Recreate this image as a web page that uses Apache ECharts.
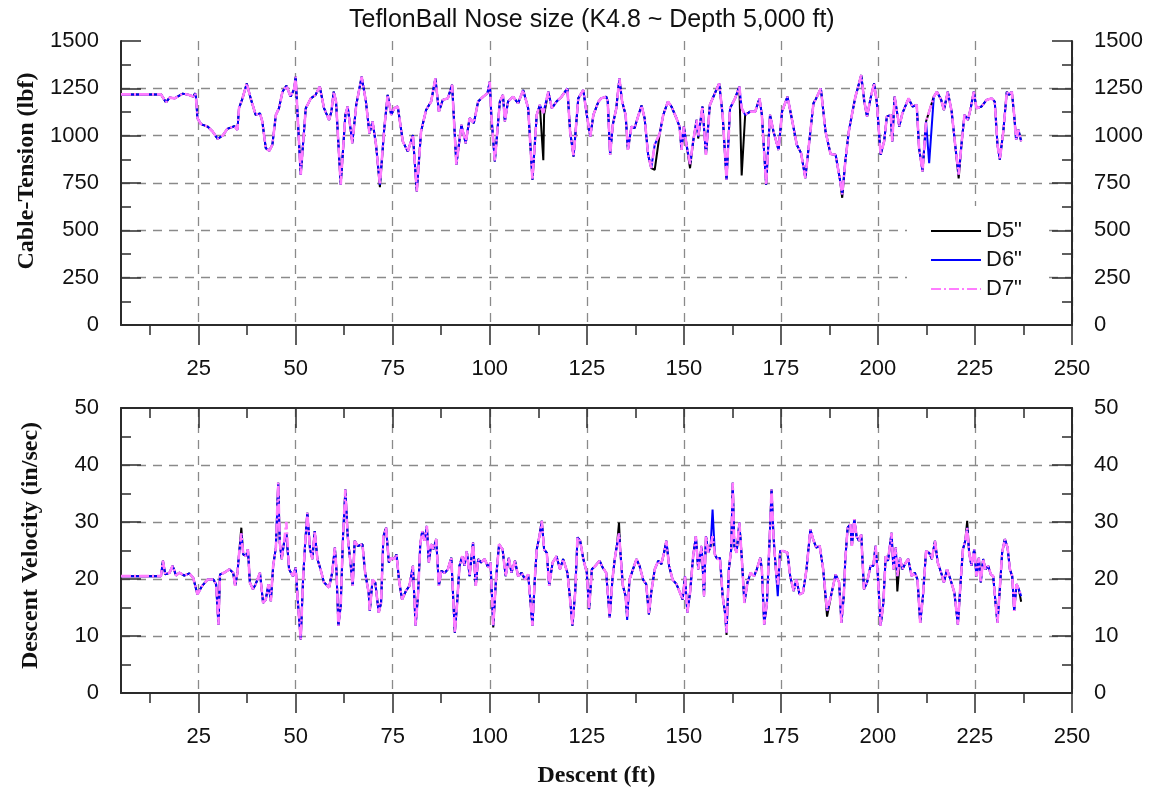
<!DOCTYPE html>
<html><head><meta charset="utf-8">
<script src="https://cdn.jsdelivr.net/npm/echarts@6/dist/echarts.min.js"></script>
<style>html,body{margin:0;padding:0;background:#fff}#c{width:1152px;height:792px}</style>
</head><body><div id="c"></div>
<script>
const chartTitle = 'TeflonBall Nose size (K4.8 ~ Depth 5,000 ft)';
const seriesNames = ['D5"', 'D6"', 'D7"'];
const xTicks = [25, 50, 75, 100, 125, 150, 175, 200, 225, 250];
const xMinorTicks = [12.5, 37.5, 62.5, 87.5, 112.5, 137.5, 162.5, 187.5, 212.5, 237.5];

const tensionDepth = [
5,15.3,16.6,17.5,18.8,20.9,22.6,23.6,24.1,24.3,
24.7,25.6,27.3,28.6,29.9,31.2,32.4,34.2,35.0,35.4,
36.3,37.4,38.4,39.7,40.8,41.4,42.3,43.2,44.0,44.9,
45.7,46.6,47.6,48.7,49.6,50.0,50.4,51.3,52.6,53.9,
55.1,56.2,57.3,58.6,59.2,59.8,60.4,61.6,62.8,63.4,
64.6,65.6,67.0,68.1,69.0,69.8,70.7,71.7,72.8,73.7,
74.6,75.4,76.3,77.6,78.9,80.2,81.2,82.3,83.6,84.9,
86.0,86.9,87.9,89.2,90.3,91.4,92.7,93.8,94.8,95.9,
97.0,98.3,99.4,100.0,100.4,101.3,102.6,103.4,103.9,104.7,
106.0,107.3,108.6,109.9,111.0,112.1,112.9,113.8,114.0,115.1,
116.0,117.2,118.5,120.0,120.7,121.6,122.8,124.1,125.0,125.9,
126.7,128.0,128.7,130.0,130.4,131.0,131.7,132.6,133.4,134.1,
135.0,135.6,136.5,137.3,138.2,139.1,139.9,140.8,141.6,142.5,
143.8,144.7,145.9,146.8,148.1,148.9,149.4,150.0,150.7,151.6,
152.4,153.3,153.7,154.8,155.7,156.7,158.0,159.1,160.0,161.0,
161.9,163.2,164.3,164.9,165.8,167.1,168.4,169.5,170.1,171.2,
172.2,173.1,174.4,175.3,176.7,177.8,179.1,180.2,181.3,182.6,
183.4,184.1,185.3,186.5,187.8,189.1,190.2,190.8,191.6,192.5,
193.3,194.2,194.8,195.7,196.5,197.2,198.1,199.0,199.7,200.7,
201.6,202.3,203.3,203.7,204.3,205.5,206.3,207.9,208.9,210.0,
210.6,211.5,212.4,213.2,214.4,215.2,216.3,217.0,218.0,219.0,
219.9,220.8,221.6,222.3,223.2,223.9,224.7,225.4,226.7,228.0,
229.3,230.1,230.8,231.4,232.3,233.2,233.8,234.5,235.1,235.6,
236.2,236.9];

const tensionD5 = [
1218,1218,1176,1201,1197,1222,1215,1206,1224,1206,
1092,1061,1048,1022,983,1001,1036,1050,1031,1145,
1197,1276,1197,1110,1118,1075,934,920,952,1110,
1145,1232,1264,1206,1246,1311,1145,794,1145,1197,
1215,1259,1145,1083,1127,1232,1180,741,1110,1154,
960,1162,1311,1180,1012,1075,952,728,1033,1215,
1110,1145,1154,970,916,1003,706,1022,1136,1180,
1303,1127,1189,1197,1268,847,1057,960,1092,1066,
1180,1206,1224,1285,1110,864,1180,1215,1075,1180,
1206,1171,1241,1145,767,1110,1162,870,1110,1232,
1145,1180,1206,1250,1022,890,1197,1241,1110,995,
1110,1180,1197,1206,1180,899,1057,1145,1303,1180,
1110,925,1048,1040,1101,1159,1092,899,829,820,
1012,1110,1180,1154,1092,1048,925,1048,952,828,
970,1083,985,1154,899,1162,1224,1276,1110,767,
1145,1197,1259,790,1110,1127,1127,1197,1110,741,
1110,1022,925,1127,1206,1092,952,908,776,1022,
1171,1197,1250,1022,903,899,770,672,864,1022,
1110,1206,1250,1320,1180,1101,1197,1276,1180,899,
970,1101,1110,970,1206,1048,1118,1197,1154,1162,
934,811,1075,1127,1206,1232,1189,1136,1232,1127,
952,774,970,1110,1083,1145,1232,1145,1154,1189,
1197,1180,952,873,1022,1232,1215,1232,1110,978,
1031,970];

const tensionD6 = [
1218,1218,1176,1201,1197,1222,1215,1206,1224,1206,
1092,1061,1048,1022,983,1001,1036,1050,1031,1145,
1197,1276,1197,1110,1118,1075,934,920,952,1110,
1145,1232,1264,1206,1246,1311,1145,794,1145,1197,
1215,1259,1145,1083,1127,1232,1180,741,1110,1154,
960,1162,1311,1180,1012,1075,952,740,1033,1215,
1110,1145,1154,970,916,1003,706,1022,1136,1180,
1303,1127,1189,1197,1268,847,1057,960,1092,1066,
1180,1206,1224,1285,1110,864,1180,1215,1075,1180,
1206,1171,1241,1145,767,1110,1162,1120,1110,1232,
1145,1180,1206,1250,1022,890,1197,1241,1110,995,
1110,1180,1197,1206,1180,899,1057,1145,1303,1180,
1110,925,1048,1040,1101,1159,1092,899,829,952,
1012,1110,1180,1154,1092,1048,925,1048,952,850,
970,1083,995,1154,899,1162,1224,1276,1110,767,
1145,1197,1259,1145,1110,1127,1127,1197,1110,741,
1110,1022,925,1127,1206,1092,952,908,776,1022,
1171,1197,1250,1022,903,899,770,690,864,1022,
1110,1206,1250,1320,1180,1101,1197,1276,1180,899,
970,1101,1110,970,1206,1048,1118,1197,1154,1162,
934,811,1075,855,1206,1232,1189,1136,1232,1127,
952,794,970,1110,1083,1145,1232,1145,1154,1189,
1197,1180,952,873,1022,1232,1215,1232,1110,978,
1031,970];

const tensionD7 = [
1218,1218,1176,1201,1197,1222,1215,1206,1224,1206,
1092,1061,1048,1022,983,1001,1036,1050,1031,1145,
1197,1276,1197,1110,1118,1075,934,920,952,1110,
1145,1232,1264,1206,1246,1311,1145,794,1145,1197,
1215,1259,1145,1083,1127,1232,1180,741,1110,1154,
960,1162,1311,1180,1012,1075,952,740,1033,1215,
1110,1145,1154,970,916,1003,706,1022,1136,1180,
1303,1127,1189,1197,1268,847,1057,960,1092,1066,
1180,1206,1224,1285,1110,864,1180,1215,1075,1180,
1206,1171,1241,1145,767,1110,1162,1120,1110,1232,
1145,1180,1206,1250,1022,890,1197,1241,1110,995,
1110,1180,1197,1206,1180,899,1057,1145,1303,1180,
1110,925,1048,1040,1101,1159,1092,899,829,952,
1012,1110,1180,1154,1092,1048,925,1048,952,850,
970,1083,995,1154,899,1162,1224,1276,1110,767,
1145,1197,1259,1145,1110,1127,1127,1197,1110,741,
1110,1022,925,1127,1206,1092,952,908,776,1022,
1171,1197,1250,1022,903,899,770,690,864,1022,
1110,1206,1250,1320,1180,1101,1197,1276,1180,899,
970,1101,1110,970,1206,1048,1118,1197,1154,1162,
934,811,1075,1127,1206,1232,1189,1136,1232,1127,
952,794,970,1110,1083,1145,1232,1145,1154,1189,
1197,1180,952,873,1022,1232,1215,1232,1110,978,
1031,970];

const velocityDepth = [
5,15.3,15.8,16.4,17.5,18.3,19.2,20.0,21.3,22.6,
23.6,24.7,25.9,27.3,28.8,29.5,30.1,30.5,31.6,32.9,
33.9,34.4,35.0,35.4,36.0,36.5,37.2,37.7,38.2,39.0,
39.7,40.8,41.6,42.3,43.0,43.6,44.2,44.9,45.5,45.9,
46.4,47.0,47.6,48.3,49.3,50.0,50.7,51.3,51.9,52.4,
53.0,53.7,54.3,54.9,55.6,56.4,57.3,58.6,59.4,60.1,
60.5,61.0,61.6,62.2,62.8,63.4,64.1,64.7,65.2,66.0,
67.2,67.9,68.8,69.1,69.8,70.5,71.4,72.0,72.6,73.3,
74.0,74.6,75.4,76.0,76.6,77.4,78.4,79.3,80.2,80.9,
81.5,82.1,82.6,83.2,83.8,84.3,84.9,85.5,86.2,86.9,
87.5,88.4,89.2,90.1,91.0,91.6,92.2,92.9,93.5,94.1,
94.8,95.7,96.4,97.0,97.8,98.7,99.6,100.2,100.9,101.6,
102.4,103.3,104.1,104.9,105.6,106.5,107.3,108.2,109.1,109.9,
111.0,111.6,112.1,112.8,113.4,114.0,114.7,115.3,116.2,117.2,
118.1,118.9,120.0,120.7,121.3,122.0,122.6,123.3,124.1,125.0,
125.6,126.3,127.2,128.3,129.1,130.0,130.9,131.6,132.2,132.8,
133.3,133.6,134.3,135.0,135.4,136.0,136.9,137.8,138.6,139.5,
140.3,141.0,141.6,142.5,143.4,144.2,144.9,145.5,146.2,147.1,
148.1,149.0,149.7,150.3,150.9,151.6,152.4,153.1,153.7,154.6,
155.2,155.7,156.3,156.9,157.4,158.0,158.6,159.3,160.0,160.6,
161.0,161.6,162.2,162.6,163.0,163.6,164.3,164.9,165.6,166.4,
167.2,168.1,168.8,169.7,170.1,170.7,171.4,172.1,172.6,173.1,
173.7,174.2,174.8,175.7,176.7,177.4,178.3,179.0,179.8,180.7,
181.6,182.6,183.3,184.1,185.0,185.9,186.9,188.0,189.1,190.0,
190.6,191.2,191.6,192.2,192.9,193.3,193.9,194.5,195.1,195.7,
196.4,197.2,198.1,198.8,199.4,200.0,200.7,201.4,202.0,202.6,
203.1,203.5,204.0,204.6,205.0,205.7,206.3,207.2,207.8,208.7,
209.5,210.2,210.9,211.6,212.4,213.2,213.9,214.7,215.4,216.3,
217.0,217.8,218.7,219.7,220.6,221.3,221.9,222.5,223.0,223.5,
224.1,224.8,225.4,226.0,226.5,227.1,227.7,228.4,229.1,229.7,
230.3,230.8,231.4,232.0,232.7,233.4,234.0,234.6,235.1,235.7,
236.3,236.9];

const velocityD5 = [
20.5,20.5,23.2,20.8,21.1,22.3,20.6,21.1,20.6,21.0,
20.2,17.3,18.8,19.9,19.9,19.1,12.0,20.8,21.1,21.7,
21.1,18.8,21.1,24.3,29.0,24.3,24.0,25.2,19.4,18.2,
19.1,21.1,15.8,16.4,19.1,16.1,22.3,25.5,36.9,26.4,
23.5,26.4,28.0,21.7,20.5,22.0,14.7,9.4,19.9,25.8,
31.6,25.2,23.5,28.4,23.5,21.7,19.4,18.5,21.1,25.5,
21.7,11.8,15.3,27.5,35.7,27.5,22.9,18.8,26.7,25.8,
26.1,21.1,17.6,14.4,19.9,19.4,14.1,15.8,27.5,29.0,
22.9,23.7,23.5,24.3,19.9,16.4,17.9,18.8,22.3,11.8,
17.0,26.1,28.4,26.7,29.3,22.9,26.1,25.2,27.0,18.8,
21.4,21.1,21.7,23.7,10.6,15.8,22.3,24.0,22.3,24.9,
20.5,26.4,18.8,23.5,22.9,23.5,22.0,22.9,11.5,19.9,
26.1,25.2,20.5,23.7,21.1,23.2,20.5,21.1,19.9,20.8,
11.8,19.9,25.2,27.5,30.2,25.2,24.6,18.8,22.9,24.0,
21.7,23.5,21.1,16.4,11.8,17.6,27.3,26.7,23.5,21.1,
14.7,21.7,22.3,23.2,22.0,21.1,13.2,19.9,23.5,26.1,
29.9,25.2,18.8,17.0,13.4,19.9,21.7,23.5,22.3,19.9,
19.1,13.8,17.6,21.7,23.2,22.6,24.6,26.7,22.3,19.9,
19.1,17.6,16.4,20.5,14.1,17.6,24.0,27.5,21.7,25.8,
17.0,27.5,24.6,25.8,27.5,24.3,23.5,23.7,17.0,14.1,
10.2,21.7,25.2,36.9,25.8,24.6,29.9,24.0,15.8,19.4,
21.1,20.5,21.7,23.7,21.7,12.0,15.8,27.0,35.7,27.5,
21.7,19.0,24.9,24.9,24.6,20.5,17.9,19.9,17.3,17.6,
21.7,28.7,27.0,25.5,25.8,21.7,13.4,17.3,20.8,19.4,
12.3,17.0,23.5,29.0,29.6,25.8,30.5,27.5,26.7,27.8,
18.2,19.4,22.3,22.3,25.8,20.5,11.8,15.8,24.0,23.2,
22.9,28.1,21.7,25.5,17.8,23.7,21.7,22.9,23.5,20.5,
21.1,19.9,12.3,17.0,24.9,24.6,23.5,26.7,22.9,21.1,
19.4,21.7,19.9,17.6,12.0,19.4,25.2,26.7,30.2,24.6,
22.3,25.2,20.5,23.7,19.4,23.5,21.7,22.3,20.8,20.5,
15.8,12.3,18.2,24.6,27.0,25.5,21.7,20.5,14.4,19.1,
18.2,16.0];

const velocityD6 = [
20.5,20.5,23.2,20.8,21.1,22.3,20.6,21.1,20.6,21.0,
20.2,17.3,18.8,19.9,19.9,19.1,12.0,20.8,21.1,21.7,
21.1,18.8,21.1,24.3,28.0,24.3,24.0,25.2,19.4,18.2,
19.1,21.1,15.8,16.4,19.1,16.1,22.3,25.5,36.9,26.4,
23.5,26.4,28.0,21.7,20.5,22.0,14.7,9.4,19.9,25.8,
31.6,25.2,23.5,28.4,23.5,21.7,19.4,18.5,21.1,25.5,
21.7,11.8,15.3,27.5,35.7,27.5,22.9,18.8,26.7,25.8,
26.1,21.1,17.6,14.4,19.9,19.4,14.1,15.8,27.5,29.0,
22.9,23.7,23.5,24.3,19.9,16.4,17.9,18.8,22.3,11.8,
17.0,26.1,28.4,26.7,29.3,22.9,26.1,25.2,27.0,18.8,
21.4,21.1,21.7,23.7,10.6,15.8,22.3,24.0,22.3,24.9,
20.5,26.4,18.8,23.5,22.9,23.5,22.0,22.9,11.8,19.9,
26.1,25.2,20.5,23.7,21.1,23.2,20.5,21.1,19.9,20.8,
11.8,19.9,25.2,27.5,30.2,25.2,24.6,18.8,22.9,24.0,
21.7,23.5,21.1,16.4,11.8,17.6,27.3,26.7,23.5,21.1,
14.7,21.7,22.3,23.2,22.0,21.1,13.2,19.9,23.5,26.1,
28.0,25.2,18.8,17.0,12.8,19.9,21.7,23.5,22.3,19.9,
19.1,13.8,17.6,21.7,23.2,22.6,24.6,26.7,22.3,19.9,
19.1,17.6,16.4,20.5,14.1,17.6,24.0,27.5,21.7,25.8,
17.0,27.5,24.6,25.8,32.2,24.3,23.5,23.7,17.0,14.1,
10.6,21.7,25.2,36.9,25.8,24.6,29.9,24.0,15.8,19.4,
21.1,20.5,21.7,23.7,21.7,12.0,15.8,27.0,35.7,27.5,
21.7,17.0,24.9,24.9,24.6,20.5,17.9,19.9,17.3,17.6,
21.7,28.7,27.0,25.5,25.8,21.7,14.4,17.3,20.8,19.4,
12.3,17.0,23.5,29.0,29.6,25.8,30.5,27.5,26.7,27.8,
18.2,19.4,22.3,22.3,25.8,20.5,11.8,15.8,24.0,23.2,
22.9,28.1,21.7,25.5,20.5,23.7,21.7,22.9,23.5,20.5,
21.1,19.9,12.3,17.0,24.9,24.6,23.5,26.7,22.9,21.1,
19.4,21.7,19.9,17.6,12.0,19.4,25.2,26.7,29.0,24.6,
22.3,25.2,20.5,23.7,19.4,23.5,21.7,22.3,20.8,20.5,
15.8,12.3,18.2,24.6,27.0,25.5,21.7,20.5,14.4,19.1,
18.2,17.0];

const velocityD7 = [
20.5,20.5,23.2,20.8,21.1,22.3,20.6,21.1,20.6,21.0,
20.2,17.3,18.8,19.9,19.9,19.1,12.0,20.8,21.1,21.7,
21.1,18.8,21.1,24.3,28.0,24.3,24.0,25.2,19.4,18.2,
19.1,21.1,15.8,16.4,19.1,16.1,22.3,25.5,36.9,26.4,
23.5,26.4,30.0,21.7,20.5,22.0,14.7,9.4,19.9,25.8,
31.6,25.2,23.5,28.4,23.5,21.7,19.4,18.5,21.1,25.5,
21.7,11.8,15.3,27.5,35.7,27.5,22.9,18.8,26.7,25.8,
26.1,21.1,17.6,14.4,19.9,19.4,14.1,15.8,27.5,29.0,
22.9,23.7,23.5,24.3,19.9,16.4,17.9,18.8,22.3,11.8,
17.0,26.1,28.4,26.7,29.3,22.9,26.1,25.2,27.0,18.8,
21.4,21.1,21.7,23.7,10.6,15.8,22.3,24.0,22.3,24.9,
20.5,26.4,18.8,23.5,22.9,23.5,22.0,22.9,11.8,19.9,
26.1,25.2,20.5,23.7,21.1,23.2,20.5,21.1,19.9,20.8,
11.8,19.9,25.2,27.5,30.2,25.2,24.6,18.8,22.9,24.0,
21.7,23.5,21.1,16.4,11.8,17.6,27.3,26.7,23.5,21.1,
14.7,21.7,22.3,23.2,22.0,21.1,13.2,19.9,23.5,26.1,
28.0,25.2,18.8,17.0,13.4,19.9,21.7,23.5,22.3,19.9,
19.1,13.8,17.6,21.7,23.2,22.6,24.6,26.7,22.3,19.9,
19.1,17.6,16.4,20.5,14.1,17.6,24.0,27.5,21.7,25.8,
17.0,27.5,24.6,25.8,27.5,24.3,23.5,23.7,17.0,14.1,
10.6,21.7,25.2,36.9,25.8,24.6,29.9,24.0,15.8,19.4,
21.1,20.5,21.7,23.7,21.7,12.0,15.8,27.0,35.7,27.5,
21.7,19.0,24.9,24.9,24.6,20.5,17.9,19.9,17.3,17.6,
21.7,28.7,27.0,25.5,25.8,21.7,14.4,17.3,20.8,19.4,
12.3,17.0,23.5,29.0,29.6,25.8,30.5,27.5,26.7,27.8,
18.2,19.4,22.3,22.3,25.8,20.5,11.8,15.8,24.0,23.2,
22.9,28.1,21.7,25.5,20.5,23.7,21.7,22.9,23.5,20.5,
21.1,19.9,12.3,17.0,24.9,24.6,23.5,26.7,22.9,21.1,
19.4,21.7,19.9,17.6,12.0,19.4,25.2,26.7,29.0,24.6,
22.3,25.2,20.5,23.7,19.4,23.5,21.7,22.3,20.8,20.5,
15.8,12.3,18.2,24.6,27.0,25.5,21.7,20.5,14.4,19.1,
18.2,17.0];

const zip = (xs, ys) => xs.map((x, i) => [x, ys[i]]);

const axisColor = '#2b2b2b';
const gridLine = { color: '#8a8a8a', width: 1.3, type: [9, 7] };
const labelFont = { fontFamily: 'Liberation Sans', fontSize: 22, color: '#111' };
const nameFont = { fontFamily: 'Liberation Serif', fontWeight: 'bold', fontSize: 24, color: '#111' };
const colors = ['#000000', '#0000ff', '#ff7dff'];
const widths = [2, 2, 2.6];
const dashes = ['solid', 'solid', [10, 3, 2, 3]];
const plain = v => String(v);

function xMain(grid, withName) {
  const ax = {
    gridIndex: grid, type: 'value', min: 5, max: 250, minInterval: 25, maxInterval: 25,
    position: 'bottom',
    axisLine: { show: true, onZero: false, lineStyle: { color: axisColor, width: 2 } },
    axisTick: { show: true, inside: false, length: 20, customValues: xTicks, lineStyle: { color: axisColor, width: 1.5 } },
    axisLabel: { show: true, customValues: xTicks, margin: 33, formatter: plain, ...labelFont },
    splitLine: { show: true, lineStyle: gridLine }
  };
  if (withName) {
    ax.name = 'Descent (ft)';
    ax.nameLocation = 'middle';
    ax.nameGap = 71;
    ax.nameTextStyle = nameFont;
  }
  return ax;
}
function xExtra(grid, pos, values, len, inside, showLine) {
  return {
    gridIndex: grid, type: 'value', min: 5, max: 250, position: pos,
    axisLine: { show: showLine, onZero: false, lineStyle: { color: axisColor, width: 2 } },
    axisTick: { show: true, inside: inside, length: len, customValues: values, lineStyle: { color: axisColor, width: 1.5 } },
    axisLabel: { show: false }, splitLine: { show: false }
  };
}
function yAxis(grid, pos, max, interval, name, pad) {
  const ax = {
    gridIndex: grid, type: 'value', min: 0, max: max, interval: interval, position: pos,
    axisLine: { show: true, onZero: false, lineStyle: { color: axisColor, width: 2 } },
    axisTick: { show: true, inside: true, length: 20, lineStyle: { color: axisColor, width: 1.5 } },
    minorTick: { show: true, splitNumber: 2, length: 10, lineStyle: { color: axisColor, width: 1.5 } },
    axisLabel: { margin: 22, formatter: plain, ...labelFont },
    splitLine: { show: pos === 'left', showMinLine: false, showMaxLine: false, lineStyle: gridLine }
  };
  if (name) {
    ax.name = name;
    ax.nameLocation = 'middle';
    ax.nameGap = 78;
    ax.nameTextStyle = Object.assign({}, nameFont, { padding: pad });
  }
  return ax;
}

const series = [];
[tensionD5, tensionD6, tensionD7].forEach((vals, i) => {
  series.push({ name: seriesNames[i], type: 'line', xAxisIndex: 0, yAxisIndex: 0,
    data: zip(tensionDepth, vals), symbol: 'none', showSymbol: false,
    lineStyle: { color: colors[i], width: widths[i], type: dashes[i] }, itemStyle: { color: colors[i] } });
});
[velocityD5, velocityD6, velocityD7].forEach((vals, i) => {
  series.push({ name: seriesNames[i], type: 'line', xAxisIndex: 2, yAxisIndex: 2,
    data: zip(velocityDepth, vals), symbol: 'none', showSymbol: false,
    lineStyle: { color: colors[i], width: widths[i], type: dashes[i] }, itemStyle: { color: colors[i] } });
});

const chart = echarts.init(document.getElementById('c'), null, { renderer: 'canvas' });
chart.setOption({
  animation: false,
  backgroundColor: '#ffffff',
  title: { text: chartTitle, left: 344, top: 3,
    textStyle: { fontFamily: 'Liberation Sans', fontWeight: 'normal', fontSize: 25, color: '#111' } },
  legend: { data: seriesNames, orient: 'vertical', left: 907, top: 206, itemWidth: 50, itemHeight: 14, itemGap: 7,
    backgroundColor: '#ffffff', padding: [14, 22, 22, 23],
    itemStyle: { opacity: 0 },
    textStyle: { fontFamily: 'Liberation Sans', fontSize: 22, color: '#111' } },
  grid: [
    { left: 121, right: 80, top: 41, height: 284 },
    { left: 121, right: 80, top: 408, height: 285 }
  ],
  xAxis: [
    xMain(0, false),
    xExtra(0, 'bottom', xMinorTicks, 10, false, false),
    xMain(1, true),
    xExtra(1, 'bottom', xMinorTicks, 10, false, false),
    xExtra(1, 'top', xTicks, 20, true, true),
    xExtra(1, 'top', xMinorTicks, 10, true, false)
  ],
  yAxis: [
    yAxis(0, 'left', 1500, 250, 'Cable-Tension (lbf)', [0, 0, 0, 24]),
    yAxis(0, 'right', 1500, 250, null),
    yAxis(1, 'left', 50, 10, 'Descent Velocity (in/sec)', [0, 0, 0, 10]),
    yAxis(1, 'right', 50, 10, null)
  ],
  series: series
});
</script></body></html>
